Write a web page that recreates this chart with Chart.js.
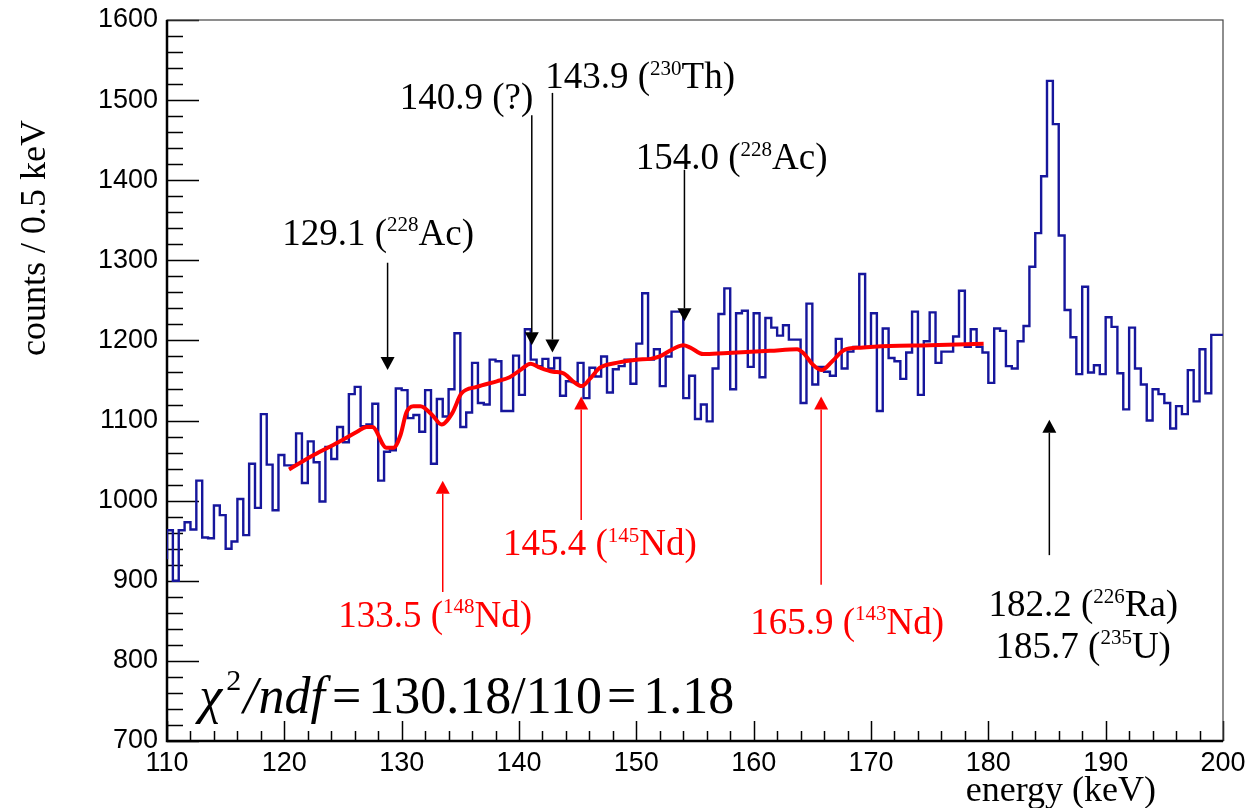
<!DOCTYPE html>
<html>
<head>
<meta charset="utf-8">
<script src="https://cdn.jsdelivr.net/npm/chart.js@4.4.1/dist/chart.umd.min.js"></script>
<style>
  html, body { margin: 0; padding: 0; background: #fff; }
  #wrap { width: 1246px; height: 808px; }
</style>
</head>
<body>
<div id="wrap"><canvas id="spec" width="1246" height="808"></canvas></div>
<script>
// spectrum: 0.5 keV bins starting at 110 keV
const binLow = 110;
const binWidth = 0.5;
const counts = [
  927, 963, 900, 963, 973, 964, 1025, 954, 953, 994,
  982, 940, 949, 1002, 957, 1046, 991, 1108, 1045, 988,
  1057, 1044, 1044, 1084, 1022, 1074, 1048, 999, 1067, 1052,
  1092, 1073, 1133, 1142, 1093, 1095, 1121, 1025, 1061, 1063,
  1140, 1138, 1103, 1107, 1086, 1138, 1046, 1127, 1105, 1139,
  1209, 1092, 1110, 1172, 1122, 1120, 1176, 1174, 1112, 1112,
  1181, 1132, 1214, 1176, 1168, 1177, 1165, 1178, 1131, 1149,
  1148, 1172, 1128, 1166, 1155, 1180, 1135, 1164, 1168, 1176,
  1146, 1196, 1259, 1176, 1189, 1143, 1180, 1236, 1236, 1128,
  1156, 1102, 1120, 1099, 1165, 1233, 1265, 1139, 1234, 1237,
  1167, 1234, 1154, 1228, 1216, 1206, 1219, 1201, 1201, 1122,
  1246, 1145, 1167, 1161, 1156, 1202, 1165, 1186, 1192, 1283,
  1192, 1234, 1112, 1215, 1178, 1174, 1152, 1185, 1236, 1132,
  1199, 1235, 1172, 1186, 1186, 1205, 1262, 1192, 1214, 1192,
  1185, 1147, 1215, 1212, 1168, 1165, 1199, 1218, 1292, 1334,
  1405, 1524, 1470, 1331, 1238, 1204, 1158, 1267, 1160, 1169,
  1158, 1229, 1217, 1159, 1114, 1216, 1165, 1145, 1100, 1139,
  1133, 1122, 1090, 1118, 1108, 1163, 1124, 1189, 1134, 1207
];

// fitted curve (background + peaks), sampled along the fit range
const fitEnergy = [
  120.4, 122.5, 124.6, 126.2, 127.0, 127.5, 128.7, 129.3, 129.9, 130.4,
  131.0, 131.6, 132.6, 133.4, 134.3, 135.1, 136.4, 138.1, 139.2, 140.1,
  141.0, 141.8, 142.9, 143.8, 144.6, 145.35, 146.1, 146.9, 148.3, 150.0,
  151.2, 152.0, 153.2, 154.0, 154.6, 155.7, 157.4, 161.4, 163.7, 164.25,
  165.1, 165.8, 166.7, 167.7, 169.1, 171.6, 175.0, 179.6
];
const fitCounts = [
  1039, 1057, 1073, 1086, 1092, 1092, 1066, 1066, 1082, 1110,
  1118, 1118, 1107, 1095, 1109, 1134, 1142, 1149, 1154, 1163,
  1171, 1166, 1161, 1159, 1149, 1143, 1153, 1166, 1172, 1176,
  1177, 1180, 1190, 1194, 1191, 1183, 1184, 1187, 1189, 1184,
  1169, 1163, 1174, 1188, 1191, 1193, 1194, 1196
];

const xRange = [110, 200];
const yRange = [700, 1600];

const histPoints = counts.map((c, i) => ({ x: binLow + i * binWidth, y: c }));
histPoints.push({ x: binLow + counts.length * binWidth, y: counts[counts.length - 1] });
const fitPoints = fitEnergy.map((e, i) => ({ x: e, y: fitCounts[i] }));

// peak labels: text parts, label centre and arrow (tail -> tip), all in data units
const peakNotes = [
  { parts: [['129.1 ('], ['228', 1], ['Ac)']], color: '#000', at: [127.99, 1335], arrow: [128.8, 1297, 1163] },
  { parts: [['140.9 (?)']], color: '#000', at: [135.53, 1504], arrow: [141.09, 1481, 1194] },
  { parts: [['143.9 ('], ['230', 1], ['Th)']], color: '#000', at: [150.32, 1530], arrow: [142.85, 1509, 1185] },
  { parts: [['154.0 ('], ['228', 1], ['Ac)']], color: '#000', at: [158.12, 1429], arrow: [154.1, 1413, 1224] },
  { parts: [['133.5 ('], ['148', 1], ['Nd)']], color: '#f00', at: [132.85, 858], arrow: [133.5, 886, 1025] },
  { parts: [['145.4 ('], ['145', 1], ['Nd)']], color: '#f00', at: [146.9, 947], arrow: [145.3, 976, 1130] },
  { parts: [['165.9 ('], ['143', 1], ['Nd)']], color: '#f00', at: [167.97, 849], arrow: [165.75, 895, 1130] },
  { parts: [['182.2 ('], ['226', 1], ['Ra)']], color: '#000', at: [188.09, 871], arrow: [185.2, 932, 1101] },
  { parts: [['185.7 ('], ['235', 1], ['U)']], color: '#000', at: [188.09, 819], arrow: null }
];

const SERIF = '"Liberation Serif", "DejaVu Serif", serif';
const SANS = '"Liberation Sans", Arial, sans-serif';

function drawRich(ctx, parts, cx, cy, size, color) {
  const main = size + 'px ' + SERIF;
  const sup = Math.round(size * 0.58) + 'px ' + SERIF;
  let w = 0;
  parts.forEach(p => { ctx.font = p[1] ? sup : main; w += ctx.measureText(p[0]).width; });
  let x = cx - w / 2;
  const base = cy + size * 0.33;
  ctx.fillStyle = color;
  ctx.textAlign = 'left';
  ctx.textBaseline = 'alphabetic';
  parts.forEach(p => {
    ctx.font = p[1] ? sup : main;
    ctx.fillText(p[0], x, p[1] ? base - size * 0.37 : base);
    x += ctx.measureText(p[0]).width;
  });
}

function drawArrow(ctx, x, yTail, yTip, color) {
  const dir = yTip > yTail ? 1 : -1;
  const head = 13;
  ctx.strokeStyle = color;
  ctx.fillStyle = color;
  ctx.lineWidth = 1.5;
  ctx.beginPath();
  ctx.moveTo(x, yTail);
  ctx.lineTo(x, yTip - dir * head);
  ctx.stroke();
  ctx.beginPath();
  ctx.moveTo(x, yTip);
  ctx.lineTo(x - 7, yTip - dir * head);
  ctx.lineTo(x + 7, yTip - dir * head);
  ctx.closePath();
  ctx.fill();
}

// ROOT style frame with inward ticks
const framePlugin = {
  id: 'frame',
  beforeDatasetsDraw(chart) {
    const { ctx, chartArea: a, scales: { x, y } } = chart;
    ctx.save();
    ctx.strokeStyle = '#000';
    ctx.lineWidth = 1.5;
    ctx.beginPath();
    for (let v = xRange[0]; v <= xRange[1] + 1e-6; v += 2) {
      const px = Math.round(x.getPixelForValue(v)) + 0.5;
      const len = (v % 10 === 0) ? 20 : 10;
      ctx.moveTo(px, a.bottom);
      ctx.lineTo(px, a.bottom - len);
    }
    for (let v = yRange[0]; v <= yRange[1] + 1e-6; v += 20) {
      const py = Math.round(y.getPixelForValue(v)) + 0.5;
      const len = (v % 100 === 0) ? 32 : 16;
      ctx.moveTo(a.left, py);
      ctx.lineTo(a.left + len, py);
    }
    ctx.stroke();
    ctx.lineWidth = 1.2;
    ctx.strokeStyle = '#444';
    ctx.strokeRect(a.left, a.top, a.right - a.left, a.bottom - a.top);
    ctx.lineWidth = 2.5;
    ctx.strokeStyle = '#000';
    ctx.beginPath();
    ctx.moveTo(a.left, a.top);
    ctx.lineTo(a.left, a.bottom);
    ctx.lineTo(a.right, a.bottom);
    ctx.stroke();
    ctx.restore();
  },
  afterDatasetsDraw(chart) {
    const { ctx, scales: { x, y } } = chart;
    ctx.save();
    peakNotes.forEach(n => {
      drawRich(ctx, n.parts, x.getPixelForValue(n.at[0]), y.getPixelForValue(n.at[1]), 37, n.color);
      if (n.arrow) {
        drawArrow(ctx, x.getPixelForValue(n.arrow[0]), y.getPixelForValue(n.arrow[1]),
          y.getPixelForValue(n.arrow[2]), n.color);
      }
    });

    // axis titles
    ctx.fillStyle = '#000';
    ctx.font = '36px ' + SERIF;
    ctx.textAlign = 'right';
    ctx.textBaseline = 'alphabetic';
    ctx.fillText('energy (keV)', 1156, 801);
    ctx.save();
    ctx.translate(45, 238);
    ctx.rotate(-Math.PI / 2);
    ctx.textAlign = 'center';
    ctx.fillText('counts / 0.5 keV', 0, 0);
    ctx.restore();

    // fit quality
    const chi = [
      ['\u03C7', 'italic 52px ' + SERIF, 0, 4],
      ['2', '30px ' + SERIF, -23, 2],
      ['/', 'italic 52px ' + SERIF, 0, 1],
      ['ndf', 'italic 52px ' + SERIF, 0, 7],
      ['=', '52px ' + SERIF, 0, 7],
      ['130.18/110', '52px ' + SERIF, 0, 5],
      ['=', '52px ' + SERIF, 0, 7],
      ['1.18', '52px ' + SERIF, 0, 0]
    ];
    let cx = x.getPixelForValue(112.75);
    const base = y.getPixelForValue(735);
    ctx.textAlign = 'left';
    chi.forEach(c => {
      ctx.font = c[1];
      ctx.fillText(c[0], cx, base + c[2]);
      cx += ctx.measureText(c[0]).width + c[3];
    });
    ctx.restore();
  }
};

const ctx = document.getElementById('spec').getContext('2d');
new Chart(ctx, {
  type: 'line',
  data: {
    datasets: [
      {
        label: 'fit',
        data: fitPoints,
        borderColor: '#ff0000',
        borderWidth: 4,
        pointRadius: 0,
        cubicInterpolationMode: 'monotone',
        order: 0
      },
      {
        label: 'spectrum',
        data: histPoints,
        borderColor: '#16169c',
        borderWidth: 2.4,
        pointRadius: 0,
        stepped: 'after',
        order: 1
      }
    ]
  },
  options: {
    responsive: false,
    animation: false,
    layout: { padding: { left: 0, top: 20, right: 23, bottom: 0 } },
    plugins: { legend: { display: false }, tooltip: { enabled: false } },
    scales: {
      x: {
        type: 'linear',
        min: xRange[0],
        max: xRange[1],
        grid: { display: false, drawTicks: false },
        border: { display: false },
        ticks: { stepSize: 10, color: '#000', font: { family: SANS, size: 27 }, padding: 6, maxRotation: 0,
          callback: v => String(v) },
        afterFit(s) { s.height = 67; s.paddingLeft = 0; s.paddingRight = 0; }
      },
      y: {
        type: 'linear',
        min: yRange[0],
        max: yRange[1],
        grid: { display: false, drawTicks: false },
        border: { display: false },
        ticks: { stepSize: 100, color: '#000', font: { family: SANS, size: 27 }, padding: 9,
          callback: v => String(v) },
        afterFit(s) { s.width = 167; s.paddingTop = 0; s.paddingBottom = 0; }
      }
    }
  },
  plugins: [framePlugin]
});
</script>
</body>
</html>
